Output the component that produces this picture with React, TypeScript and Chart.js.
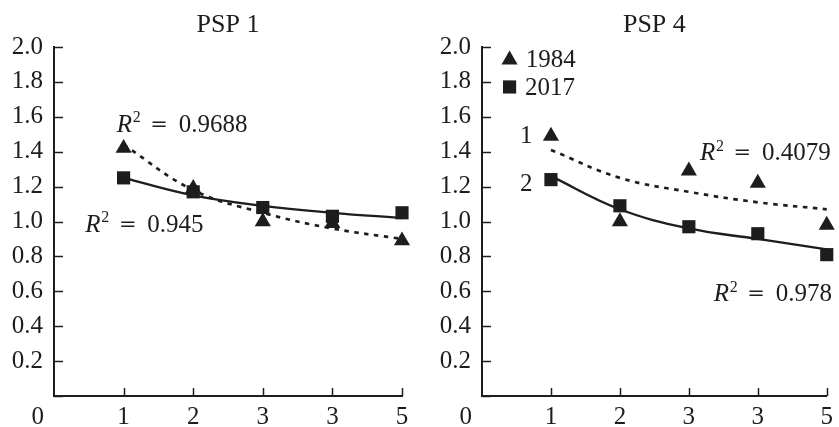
import React, { useEffect, useRef } from 'react';
import { Chart, registerables } from 'chart.js';

Chart.register(...registerables);

// ---------- data ----------
const xLabels = ['0', '1', '2', '3', '3', '5'];
const yMin = 0;
const yMax = 2.0;
const yStep = 0.2;

const psp1Title = 'PSP 1';
const psp1Points1984 = [1.42, 1.19, 1.0, 0.99, 0.89];
const psp1Points2017 = [1.25, 1.17, 1.08, 1.03, 1.05];
const psp1Trend1984 = [1.44, 1.18, 1.05, 0.96, 0.9];
const psp1Trend2017 = [1.25, 1.15, 1.09, 1.05, 1.02];
const psp1R2Labels = ['0.9688', '0.945'];

const psp4Title = 'PSP 4';
const psp4Points1984 = [1.49, 1.0, 1.29, 1.22, 0.98];
const psp4Points2017 = [1.24, 1.09, 0.97, 0.93, 0.81];
const psp4Trend1984 = [1.41, 1.25, 1.17, 1.11, 1.07];
const psp4Trend2017 = [1.26, 1.07, 0.96, 0.9, 0.84];
const psp4R2Labels = ['0.4079', '0.978'];

const legendLabels = ['1984', '2017'];
const curveLabels = ['1', '2'];

// ---------- style ----------
const INK = '#1e1c1d';
const FAMILY = '"Liberation Serif", "Times New Roman", Times, serif';
const fnt = (size: number, italic = false, fam = FAMILY) => `${italic ? 'italic ' : ''}${size}px ${fam}`;
const W = 839;
const H = 427;
const PLOT_TOP = 47;
const X_AXIS_H = 31;
const X_TICK_PAD = 6;
const MARK_R = 9.3;
const FS = 25;

type Pos = { x: number; y: number };
type PanelCfg = {
  title: string;
  pts1984: number[];
  pts2017: number[];
  tr1984: number[];
  tr2017: number[];
  r2: { text: string; at: Pos }[];
  left: number;
  width: number;
  yAxisW: number;
  padRight: number;
  legend?: { marker: Pos; text: Pos }[];
  curveLbl?: Pos[];
};

const panels: PanelCfg[] = [
  {
    title: psp1Title,
    pts1984: psp1Points1984,
    pts2017: psp1Points2017,
    tr1984: psp1Trend1984,
    tr2017: psp1Trend2017,
    r2: [
      { text: psp1R2Labels[0], at: { x: 0.9, y: 1.513 } },
      { text: psp1R2Labels[1], at: { x: 0.45, y: 0.94 } },
    ],
    left: 0,
    width: 420,
    yAxisW: 54,
    padRight: 18,
  },
  {
    title: psp4Title,
    pts1984: psp4Points1984,
    pts2017: psp4Points2017,
    tr1984: psp4Trend1984,
    tr2017: psp4Trend2017,
    r2: [
      { text: psp4R2Labels[0], at: { x: 3.16, y: 1.352 } },
      { text: psp4R2Labels[1], at: { x: 3.36, y: 0.544 } },
    ],
    left: 420,
    width: 419,
    yAxisW: 62,
    padRight: 9,
    legend: [
      { marker: { x: 0.4, y: 1.927 }, text: { x: 0.635, y: 1.888 } },
      { marker: { x: 0.4, y: 1.771 }, text: { x: 0.625, y: 1.725 } },
    ],
    curveLbl: [
      { x: 0.733, y: 1.45 },
      { x: 0.733, y: 1.175 },
    ],
  },
];

const withGap = (arr: number[]) => [null, ...arr];

function drawTriangle(ctx: CanvasRenderingContext2D, x: number, y: number, r: number) {
  ctx.beginPath();
  for (let k = 0; k < 3; k++) {
    const a = (k * 2 * Math.PI) / 3;
    const px = x + Math.sin(a) * r;
    const py = y - Math.cos(a) * r;
    if (k === 0) ctx.moveTo(px, py);
    else ctx.lineTo(px, py);
  }
  ctx.closePath();
  ctx.fill();
}

function drawSquare(ctx: CanvasRenderingContext2D, x: number, y: number, r: number) {
  const s = Math.SQRT1_2 * r;
  ctx.fillRect(x - s, y - s, 2 * s, 2 * s);
}

function makePlugin(cfg: PanelCfg) {
  return {
    id: 'decor',
    afterDraw(chart: any) {
      const { ctx, chartArea: ca, scales } = chart;
      const xs = scales.x;
      const ys = scales.y;
      const px = (v: number) => xs.getPixelForValue(v);
      const py = (v: number) => ys.getPixelForValue(v);
      ctx.save();
      // inside tick marks
      ctx.strokeStyle = INK;
      ctx.lineWidth = 1.5;
      ys.ticks.forEach((t: any) => {
        const y = Math.round(ys.getPixelForValue(t.value)) + 0.5;
        ctx.beginPath();
        ctx.moveTo(ca.left, y);
        ctx.lineTo(ca.left + 9, y);
        ctx.stroke();
      });
      xs.ticks.forEach((t: any, i: number) => {
        if (i === 0) return;
        const x = Math.round(xs.getPixelForValue(t.value)) + 0.5;
        ctx.beginPath();
        ctx.moveTo(x, ca.bottom);
        ctx.lineTo(x, ca.bottom - 8);
        ctx.stroke();
      });

      ctx.fillStyle = INK;
      // title
      ctx.font = fnt(26);
      ctx.textAlign = 'center';
      ctx.textBaseline = 'alphabetic';
      ctx.fillText(cfg.title, (ca.left + ca.right) / 2, 32);

      // origin label
      ctx.font = fnt(FS);
      ctx.textAlign = 'right';
      ctx.textBaseline = 'middle';
      ctx.fillText(xLabels[0], ca.left - 10, xs.top + X_TICK_PAD + FS * 0.6);

      // R^2 labels
      cfg.r2.forEach((r) => {
        const x = px(r.at.x);
        const y = py(r.at.y);
        ctx.textBaseline = 'alphabetic';
        ctx.textAlign = 'left';
        ctx.font = fnt(FS, true);
        ctx.fillText('R', x, y);
        ctx.font = fnt(16);
        ctx.fillText('2', x + 16, y - 9.5);
        ctx.font = fnt(21, false, '"DejaVu Serif", serif');
        ctx.textAlign = 'center';
        ctx.fillText('=', x + 42.5, y - 1);
        ctx.font = fnt(FS);
        ctx.textAlign = 'left';
        ctx.fillText(r.text, x + 62, y);
      });

      // legend
      if (cfg.legend) {
        cfg.legend.forEach((l, i) => {
          const mx = px(l.marker.x);
          const my = py(l.marker.y);
          if (i === 0) drawTriangle(ctx, mx, my, MARK_R);
          else drawSquare(ctx, mx, my, MARK_R);
          ctx.font = fnt(FS);
          ctx.textAlign = 'left';
          ctx.textBaseline = 'alphabetic';
          ctx.fillText(legendLabels[i], px(l.text.x), py(l.text.y));
        });
      }
      // curve numbers
      if (cfg.curveLbl) {
        cfg.curveLbl.forEach((p, i) => {
          ctx.font = fnt(FS);
          ctx.textAlign = 'right';
          ctx.textBaseline = 'alphabetic';
          ctx.fillText(curveLabels[i], px(p.x), py(p.y));
        });
      }
      ctx.restore();
    },
  };
}

function Panel({ cfg }: { cfg: PanelCfg }) {
  const ref = useRef<HTMLCanvasElement | null>(null);
  useEffect(() => {
    if (!ref.current) return;
    const chart = new Chart(ref.current, {
      type: 'line',
      data: {
        labels: xLabels,
        datasets: [
          {
            label: '2017',
            data: withGap(cfg.pts2017),
            showLine: false,
            pointStyle: 'rect',
            pointRadius: MARK_R,
            pointBackgroundColor: INK,
            pointBorderWidth: 0,
            borderColor: INK,
            clip: false,
          },
          {
            label: '1984',
            data: withGap(cfg.pts1984),
            showLine: false,
            pointStyle: 'triangle',
            pointRadius: MARK_R,
            pointBackgroundColor: INK,
            pointBorderWidth: 0,
            borderColor: INK,
            clip: false,
          },
          {
            label: 'trend 2017',
            data: withGap(cfg.tr2017),
            borderColor: INK,
            borderWidth: 2.3,
            pointRadius: 0,
            tension: 0.4,
            fill: false,
            clip: false,
          },
          {
            label: 'trend 1984',
            data: withGap(cfg.tr1984),
            borderColor: INK,
            borderWidth: 2.7,
            borderDash: [4.5, 5.5],
            pointRadius: 0,
            tension: 0.4,
            fill: false,
            clip: false,
          },
        ],
      } as any,
      options: {
        responsive: false,
        animation: false,
        events: [],
        layout: { padding: { left: 0, right: cfg.padRight, top: PLOT_TOP, bottom: 0 } },
        plugins: {
          legend: { display: false },
          title: { display: false },
          tooltip: { enabled: false },
        },
        scales: {
          x: {
            type: 'category',
            offset: false,
            grid: { display: false, drawTicks: false, tickLength: 0 },
            border: { display: true, color: INK, width: 2 },
            ticks: {
              autoSkip: false,
              maxRotation: 0,
              padding: X_TICK_PAD,
              color: INK,
              font: { family: FAMILY, size: FS },
              callback: (_v: any, i: number) => (i === 0 ? '' : xLabels[i]),
            },
            afterFit: (s: any) => {
              s.height = X_AXIS_H;
            },
          },
          y: {
            type: 'linear',
            min: yMin,
            max: yMax,
            grid: { display: false, drawTicks: false, tickLength: 0 },
            border: { display: true, color: INK, width: 2 },
            ticks: {
              stepSize: yStep,
              padding: 11,
              color: INK,
              font: { family: FAMILY, size: FS },
              callback: (v: any) => (Math.abs(Number(v)) < 1e-9 ? '' : Number(v).toFixed(1)),
            },
            afterFit: (s: any) => {
              s.width = cfg.yAxisW;
            },
          },
        },
      } as any,
      plugins: [makePlugin(cfg)],
    });
    return () => chart.destroy();
  }, [cfg]);
  return (
    <canvas
      ref={ref}
      width={cfg.width}
      height={H}
      style={{ position: 'absolute', left: cfg.left, top: 0, width: cfg.width, height: H }}
    />
  );
}

export default function App() {
  return (
    <div style={{ position: 'absolute', left: 0, top: 0, width: W, height: H, background: '#fff', overflow: 'hidden' }}>
      {panels.map((p) => (
        <Panel key={p.title} cfg={p} />
      ))}
    </div>
  );
}
